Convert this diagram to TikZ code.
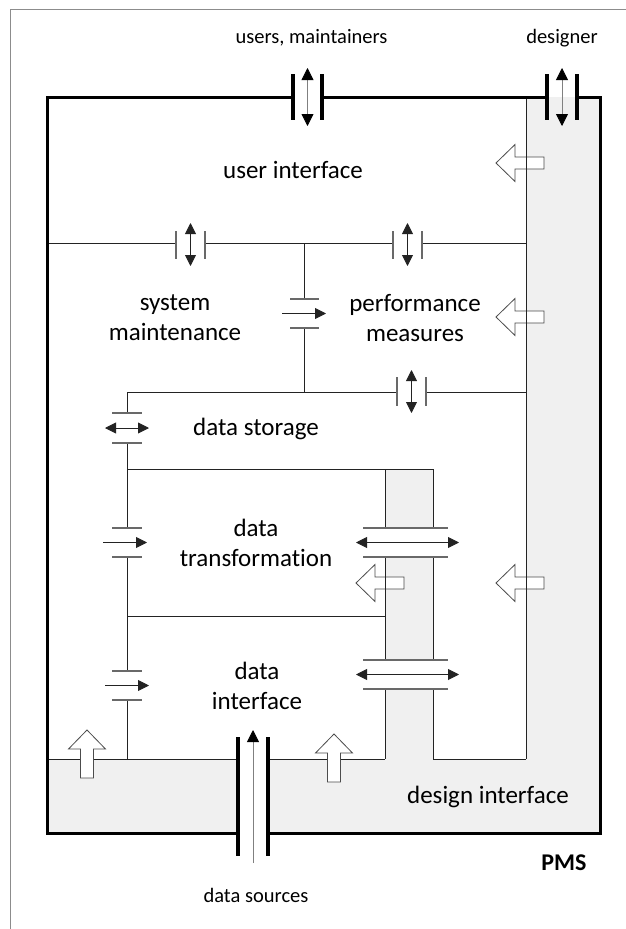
\documentclass[tikz,border=0pt]{standalone}
\usepackage{fontspec}
\setmainfont{Carlito}[Ligatures=NoCommon]
\usetikzlibrary{arrows.meta}

\definecolor{panel}{RGB}{240,240,240}
\definecolor{wire}{RGB}{35,35,35}
\definecolor{plate}{RGB}{105,105,105}
\definecolor{pageline}{RGB}{140,140,140}

\tikzset{
  wire/.style={draw=wire, line width=0.9pt},
  plate/.style={draw=plate, line width=1.2pt},
  wall/.style={draw=black, line width=3pt, line join=miter},
  portbar/.style={draw=black, line width=3.2pt},
  flow/.style={draw=wire, line width=0.9pt, -{Triangle[length=11pt,width=11pt]}},
  flowboth/.style={draw=wire, line width=0.9pt,
    {Triangle[length=11pt,width=11pt]}-{Triangle[length=11pt,width=11pt]}},
  extflow/.style={draw=black!50, line width=0.8pt,
    -{Triangle[length=12pt,width=12pt,color=black]}},
  extflowboth/.style={draw=black!50, line width=0.8pt,
    {Triangle[length=12pt,width=12pt,color=black]}-{Triangle[length=12pt,width=12pt,color=black]}},
  blockarrow/.style={draw=black!70, fill=white, line width=0.8pt, line join=miter},
  bigtext/.style={font=\fontsize{25}{30}\selectfont, align=center, inner sep=0pt},
  smalltext/.style={font=\fontsize{20.5}{24}\selectfont, inner sep=0pt},
  pics/blockleft/.style={code={
    \draw[blockarrow] (0,0) -- (19,-18.5) -- (19,-6) -- (48,-6) -- (48,6)
      -- (19,6) -- (19,18.5) -- cycle;}},
  pics/blockup/.style={code={
    \draw[blockarrow] (0,0) -- (18.5,19) -- (6.5,19) -- (6.5,48) -- (-6.5,48)
      -- (-6.5,19) -- (-18.5,19) -- cycle;}},
}

\begin{document}
\begin{tikzpicture}[x=1pt, y=-1pt]
\useasboundingbox (0,0) rectangle (626,929);

% page frame
\draw[pageline, line width=1pt] (10,929) -- (10,9.5) -- (626,9.5);

% shaded design interface: right column, bottom band (open at the data port), inner column
\fill[panel] (526,97) rectangle (600,833);
\fill[panel] (47,759) rectangle (238,833);
\fill[panel] (268,759) rectangle (600,833);
\fill[panel] (385,469) rectangle (433,528);
\fill[panel] (385,557) rectangle (433,660);
\fill[panel] (385,689) rectangle (433,759);

% design arrows pointing into the layers
\pic at (496,163) {blockleft};
\pic at (496,317) {blockleft};
\pic at (496,583) {blockleft};
\pic at (356,583) {blockleft};

% boundary under user interface
\draw[wire] (47,243) -- (176,243) (205,243) -- (393,243) (422,243) -- (526,243);
\draw[plate] (176,231) -- (176,259) (205,231) -- (205,259);
\draw[flowboth] (190.5,223) -- (190.5,266);
\draw[plate] (393,231) -- (393,259) (422,231) -- (422,259);
\draw[flowboth] (407.5,223) -- (407.5,266);

% divider between maintenance and performance
\draw[wire] (304,243) -- (304,299) (304,328) -- (304,392);
\draw[plate] (290,299) -- (319,299) (290,328) -- (319,328);
\draw[flow] (282,313.5) -- (326,313.5);

% boundary above data storage
\draw[wire] (127,392) -- (397,392) (426,392) -- (526,392);
\draw[plate] (397,377) -- (397,406) (426,377) -- (426,406);
\draw[flowboth] (411.5,370) -- (411.5,413);

% left spine with couplers
\draw[wire] (127,392) -- (127,413) (127,443) -- (127,528)
            (127,557) -- (127,671) (127,700) -- (127,759);
\draw[plate] (112,413) -- (142,413) (112,443) -- (142,443);
\draw[flowboth] (105,428) -- (149,428);
\draw[plate] (112,528) -- (142,528) (112,557) -- (142,557);
\draw[flow] (103,542.5) -- (147,542.5);
\draw[plate] (112,671) -- (142,671) (112,700) -- (142,700);
\draw[flow] (105,685.5) -- (149,685.5);

% data transformation box
\draw[wire] (127,469) -- (433,469);
\draw[wire] (127,616) -- (385,616);

% inner design column with its couplers
\draw[wire] (385,469) -- (385,528) (433,469) -- (433,528)
            (385,557) -- (385,660) (433,557) -- (433,660)
            (385,689) -- (385,759) (433,689) -- (433,759);
\draw[plate] (363,528) -- (448,528) (363,557) -- (448,557);
\draw[flowboth] (356,542.5) -- (459,542.5);
\draw[plate] (363,660) -- (448,660) (363,689) -- (448,689);
\draw[flowboth] (356,674.5) -- (459,674.5);

% edge of the design interface
\draw[wire] (47,759) -- (238,759) (268,759) -- (385,759) (433,759) -- (526,759);
\draw[wire] (526,97) -- (526,759);

% design arrows into the data interface
\pic at (87,730) {blockup};
\pic at (334,734) {blockup};

% PMS boundary
\draw[wall] (293,97) -- (47,97) -- (47,833) -- (238,833);
\draw[wall] (268,833) -- (600,833) -- (600,97) -- (577,97);
\draw[wall] (547,97) -- (322,97);

% external ports
\draw[portbar] (293,74) -- (293,120) (322,74) -- (322,120);
\draw[extflowboth] (307.5,68) -- (307.5,126);
\draw[portbar] (547,74) -- (547,120) (577,74) -- (577,120);
\draw[extflowboth] (562,68) -- (562,126);
\draw[portbar] (238,737) -- (238,856) (268,737) -- (268,856);
\draw[extflow] (253,863) -- (253,730);

% labels
\node[smalltext] (users) at (311.5,38) {users, maintainers};
\node[smalltext] (designer) at (562,38) {designer};
\node[bigtext] (ui) at (293,170) {user interface};
\node[bigtext] (sm) at (175,318) {system\\maintenance};
\node[bigtext] (pm) at (415,318) {performance\\measures};
\node[bigtext] (ds) at (256,429) {data storage};
\node[bigtext] (dt) at (256,543) {data\\transformation};
\node[bigtext] (di) at (257,686) {data\\interface};
\node[bigtext] (dsi) at (488,797) {design interface};
\node[font=\fontsize{24}{28}\selectfont\bfseries, inner sep=0pt] (pms) at (564,863) {PMS};
\node[smalltext] (src) at (256,895) {data sources};
\end{tikzpicture}
\end{document}
